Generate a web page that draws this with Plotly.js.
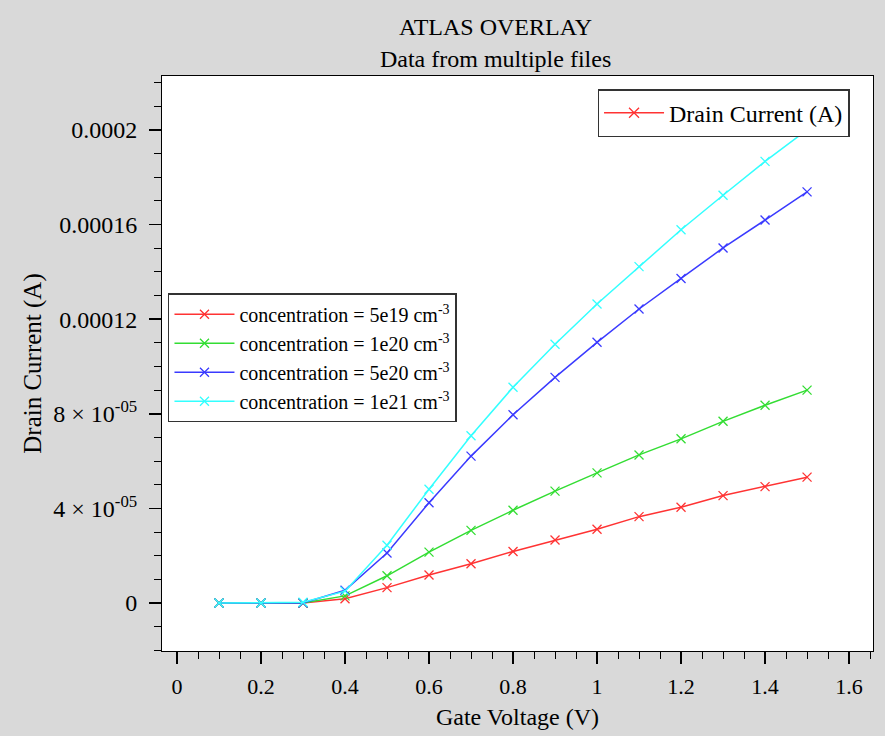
<!DOCTYPE html>
<html>
<head>
<meta charset="utf-8">
<script src="https://cdn.plot.ly/plotly-3.0.1.min.js"></script>
<style>html,body{margin:0;padding:0;background:#d9d9d9;}#chart{width:885px;height:736px;}</style>
</head>
<body>
<div id="chart"></div>
<script>
const gateVoltage = [0.1, 0.2, 0.3, 0.4, 0.5, 0.6, 0.7, 0.8, 0.9, 1.0, 1.1, 1.2, 1.3, 1.4, 1.5];
const current5e19 = [0, 0, 0, 1.8e-6, 6.5e-6, 1.18e-5, 1.66e-5, 2.18e-5, 2.66e-5, 3.12e-5, 3.65e-5, 4.05e-5, 4.54e-5, 4.92e-5, 5.32e-5];
const current1e20 = [0, 0, 0, 3.0e-6, 1.15e-5, 2.15e-5, 3.07e-5, 3.92e-5, 4.73e-5, 5.5e-5, 6.26e-5, 6.94e-5, 7.68e-5, 8.36e-5, 9.0e-5];
const current5e20 = [0, 0, 0, 5.4e-6, 2.11e-5, 4.24e-5, 6.21e-5, 7.96e-5, 9.54e-5, 1.102e-4, 1.243e-4, 1.372e-4, 1.501e-4, 1.619e-4, 1.738e-4];
const current1e21 = [0, 0, 3e-7, 5.0e-6, 2.44e-5, 4.81e-5, 7.07e-5, 9.12e-5, 1.094e-4, 1.264e-4, 1.422e-4, 1.578e-4, 1.724e-4, 1.867e-4, 2.0e-4];
const seriesNames = ["concentration = 5e19 cm<sup>-3</sup>", "concentration = 1e20 cm<sup>-3</sup>", "concentration = 5e20 cm<sup>-3</sup>", "concentration = 1e21 cm<sup>-3</sup>"];
const seriesColors = ["#ff3333", "#33dd33", "#3a3aff", "#33ffff"];
const yTickVals = [0, 4e-5, 8e-5, 1.2e-4, 1.6e-4, 2e-4];
const yTickText = ["0", "4 × 10<sup>-05</sup>", "8 × 10<sup>-05</sup>", "0.00012", "0.00016", "0.0002"];
const xTickVals = [0, 0.2, 0.4, 0.6, 0.8, 1, 1.2, 1.4, 1.6];
const xTickText = ["0", "0.2", "0.4", "0.6", "0.8", "1", "1.2", "1.4", "1.6"];

const allSeries = [current5e19, current1e20, current5e20, current1e21];
const traces = allSeries.map((ys, i) => ({
  x: gateVoltage, y: ys, name: seriesNames[i], type: 'scatter', mode: 'lines+markers',
  line: {color: seriesColors[i], width: 1.5},
  marker: {symbol: 'x-thin', size: 9, line: {color: seriesColors[i], width: 1.3}, color: seriesColors[i]},
  legend: 'legend'
}));
traces.push({
  x: [null], y: [null], name: 'Drain Current (A)', type: 'scatter', mode: 'lines+markers',
  line: {color: seriesColors[0], width: 1.5},
  marker: {symbol: 'x-thin', size: 10, line: {color: seriesColors[0], width: 1.3}},
  legend: 'legend2'
});

const font = "Liberation Serif, Times New Roman, serif";
const layout = {
  width: 885, height: 736,
  paper_bgcolor: '#d9d9d9', plot_bgcolor: '#ffffff',
  margin: {l: 162, r: 12, t: 76, b: 85},
  font: {family: font, color: '#000', size: 22},
  title: {text: 'ATLAS OVERLAY<br>Data from multiple files', x: 0.56, xanchor: 'center', yref: 'container', y: 0.952, yanchor: 'middle', font: {family: font, size: 24, color: '#000'}},
  xaxis: {
    range: [-0.0357, 1.657], tickvals: xTickVals, ticktext: xTickText,
    ticks: 'outside', ticklen: 12, tickwidth: 1.5, tickcolor: '#000', ticklabelstandoff: 4,
    minor: {dtick: 0.05, ticks: 'outside', ticklen: 7, tickwidth: 1, tickcolor: '#000', showgrid: false},
    showgrid: false, zeroline: false, showline: true, mirror: true, linecolor: '#000', linewidth: 1,
    tickfont: {family: font, size: 22}, title: {text: 'Gate Voltage (V)', font: {family: font, size: 24}, standoff: 9}
  },
  yaxis: {
    range: [-2.03e-5, 2.228e-4], tickvals: yTickVals, ticktext: yTickText,
    ticks: 'outside', ticklen: 12, tickwidth: 1.5, tickcolor: '#000', ticklabelstandoff: 7,
    minor: {dtick: 1e-5, ticks: 'outside', ticklen: 7, tickwidth: 1, tickcolor: '#000', showgrid: false},
    showgrid: false, zeroline: false, showline: true, mirror: true, linecolor: '#000', linewidth: 1,
    tickfont: {family: font, size: 24}, title: {text: 'Drain Current (A)', font: {family: font, size: 25}, standoff: 4}
  },
  legend: {x: 0.0084, y: 0.51, xanchor: 'left', yanchor: 'middle', bgcolor: '#fff', bordercolor: '#333', borderwidth: 1.5,
    font: {family: font, size: 20}, tracegroupgap: 0, itemwidth: 60},
  legend2: {x: 0.967, y: 0.977, xanchor: 'right', yanchor: 'top', bgcolor: '#fff', bordercolor: '#333', borderwidth: 1.5,
    font: {family: font, size: 24}, itemwidth: 60},
  showlegend: true
};
Plotly.newPlot('chart', traces, layout, {displayModeBar: false, staticPlot: true});
</script>
</body>
</html>
